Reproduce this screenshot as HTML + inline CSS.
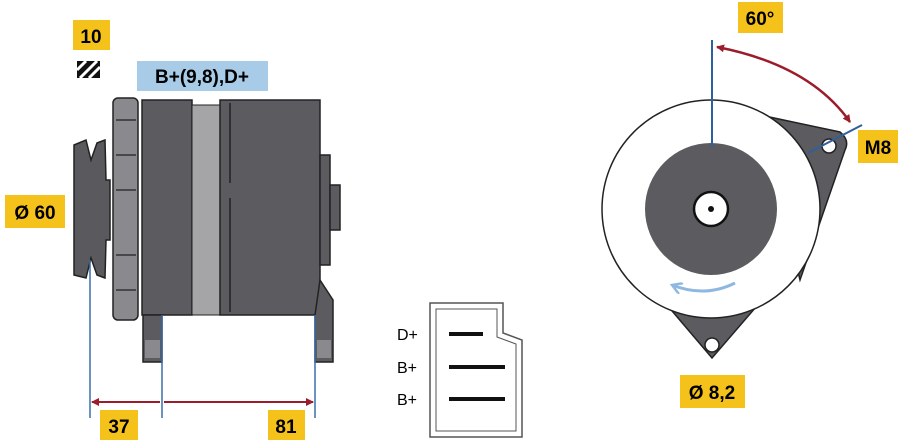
<!DOCTYPE html><html><head><style>body{margin:0;background:#fff}svg{display:block}text{font-family:"Liberation Sans",sans-serif;font-weight:bold}</style></head><body>
<svg width="900" height="445" viewBox="0 0 900 445" xmlns="http://www.w3.org/2000/svg">
<defs><marker id="ar" markerWidth="8" markerHeight="8" refX="7" refY="4" orient="auto-start-reverse" markerUnits="userSpaceOnUse"><path d="M0,0L8,4L0,8z" fill="#9b1c2a"/></marker>
<marker id="ab" markerWidth="12" markerHeight="12" refX="10" refY="6" orient="auto" markerUnits="userSpaceOnUse"><path d="M0,0L10,6L0,12" fill="none" stroke="#8fb8e0" stroke-width="2.5"/></marker></defs>
<rect x="73" y="20" width="37" height="30" fill="#f5c21b"/><text x="91" y="43" font-size="19" text-anchor="middle">10</text>
<g><rect x="77" y="61" width="23" height="17" fill="#111"/><path d="M77,70L86,61M80,78L97,61M89,78L100,67" stroke="#fff" stroke-width="3"/></g>
<rect x="137" y="61" width="131" height="30" fill="#a8cbe8"/><text x="202" y="83" font-size="19" text-anchor="middle">B+(9,8),D+</text>
<rect x="5" y="195" width="60" height="33" fill="#f5c21b"/><text x="35" y="219" font-size="19" text-anchor="middle">Ø 60</text>
<!-- pulley -->
<path d="M74,145L86,140L91,160L97,143L105,140L106,180L110,180L110,240L106,240L105,278L97,275L91,258L86,278L74,275Z" fill="#5a5a5e" stroke="#222" stroke-width="1.5"/>
<!-- front bracket -->
<rect x="113" y="98" width="25" height="222" rx="5" fill="#8a8a8e" stroke="#222" stroke-width="1.5"/>
<path d="M116,120h20M116,155h20M116,190h20M116,255h20M116,290h20" stroke="#333" stroke-width="1.5"/>
<!-- body -->
<rect x="142" y="100" width="50" height="215" fill="#5c5c60" stroke="#222" stroke-width="1.5"/>
<rect x="192" y="105" width="28" height="210" fill="#a5a5a8" stroke="#222" stroke-width="1"/>
<rect x="220" y="100" width="100" height="215" fill="#5c5c60" stroke="#222" stroke-width="1.5"/>
<path d="M230,103V183M230,198V312" stroke="#222" stroke-width="1.5"/>
<path d="M320,280L333,300V362H315V315Z" fill="#5c5c60" stroke="#222" stroke-width="1.5"/>
<rect x="320" y="155" width="10" height="110" fill="#5c5c60" stroke="#222" stroke-width="1.5"/>
<rect x="330" y="185" width="10" height="45" fill="#5c5c60" stroke="#222" stroke-width="1.5"/>
<rect x="143" y="315" width="19" height="47" fill="#5c5c60" stroke="#222" stroke-width="1.5"/>
<rect x="145" y="340" width="15" height="18" fill="#8a8a8e"/><rect x="317" y="340" width="14" height="18" fill="#8a8a8e"/>
<!-- dims -->
<path d="M90,260V418M162,315V418M315,315V418" stroke="#3b6eaa" stroke-width="1.5"/>
<path d="M92,402H160M164,402H313" stroke="#9b1c2a" stroke-width="2" marker-start="url(#ar)" marker-end="url(#ar)"/>
<rect x="100" y="410" width="38" height="30" fill="#f5c21b"/><text x="119" y="433" font-size="19" text-anchor="middle">37</text>
<rect x="268" y="410" width="37" height="30" fill="#f5c21b"/><text x="286" y="433" font-size="19" text-anchor="middle">81</text>
<!-- connector -->
<path d="M430,303H503V333L522,340V437H430Z" fill="#fff" stroke="#555" stroke-width="1.5"/>
<path d="M436,309H497V337L516,344V431H436Z" fill="none" stroke="#555" stroke-width="1"/>
<path d="M449,334H483M449,367H505M449,399H505" stroke="#111" stroke-width="4"/>
<text x="397" y="340" font-size="16" style="font-weight:normal">D+</text>
<text x="397" y="373" font-size="16" style="font-weight:normal">B+</text>
<text x="397" y="405" font-size="16" style="font-weight:normal">B+</text>
<!-- right view -->
<path d="M760,115L840,132Q850,140 845,150L800,280Z" fill="#5c5c60" stroke="#222" stroke-width="1.5"/>
<path d="M650,285L712,358L775,285Z" fill="#5c5c60" stroke="#222" stroke-width="1.5"/>
<circle cx="711" cy="209" r="109" fill="#fff" stroke="#222" stroke-width="1.5"/>
<circle cx="711" cy="209" r="66" fill="#5c5c60"/>
<circle cx="711" cy="209" r="17" fill="#fff" stroke="#111" stroke-width="2.5"/>
<circle cx="711" cy="209" r="3" fill="#111"/>
<circle cx="829" cy="146" r="7" fill="#fff" stroke="#222" stroke-width="1.5"/>
<circle cx="712" cy="345" r="7" fill="#fff" stroke="#222" stroke-width="1.5"/>
<path d="M712,40V147M808,153L862,125" stroke="#2e5f9e" stroke-width="2"/>
<path d="M717,47Q810,65 850,122" fill="none" stroke="#9b1c2a" stroke-width="2.5" marker-start="url(#ar)" marker-end="url(#ar)"/>
<path d="M735,283Q705,298 672,285" fill="none" stroke="#8fb8e0" stroke-width="3" marker-end="url(#ab)"/>
<rect x="738" y="2" width="45" height="31" fill="#f5c21b"/><text x="760" y="25" font-size="19" text-anchor="middle">60°</text>
<rect x="858" y="130" width="40" height="33" fill="#f5c21b"/><text x="878" y="154" font-size="19" text-anchor="middle">M8</text>
<rect x="680" y="375" width="65" height="33" fill="#f5c21b"/><text x="712" y="399" font-size="19" text-anchor="middle">Ø 8,2</text>
</svg></body></html>
